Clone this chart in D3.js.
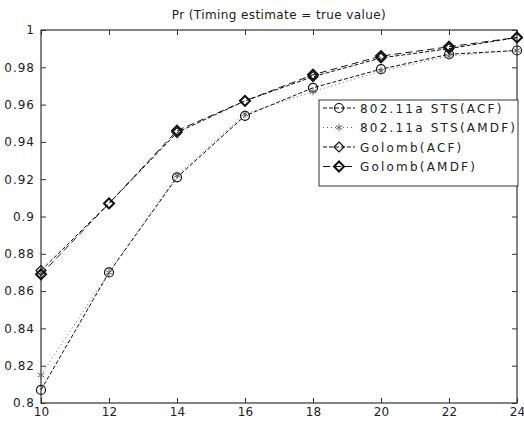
<!DOCTYPE html>
<html>
<head>
<meta charset="utf-8">
<script src="https://cdn.jsdelivr.net/npm/d3@7"></script>
<style>
  body { margin: 0; background: #fff; }
  text { font-family: "DejaVu Sans", sans-serif; fill: #222; }
</style>
</head>
<body>
<div id="chart"></div>
<script>
var snr = [10, 12, 14, 16, 18, 20, 22, 24];
var stsAcf = [0.807, 0.870, 0.921, 0.954, 0.969, 0.979, 0.987, 0.989];
var stsAmdf = [0.815, 0.870, 0.922, 0.955, 0.967, 0.978, 0.986, 0.989];
var golombAcf = [0.871, 0.907, 0.945, 0.962, 0.975, 0.985, 0.990, 0.996];
var golombAmdf = [0.869, 0.907, 0.946, 0.962, 0.976, 0.986, 0.991, 0.996];
var seriesNames = ["802.11a STS(ACF)", "802.11a STS(AMDF)", "Golomb(ACF)", "Golomb(AMDF)"];
var xTicks = [10, 12, 14, 16, 18, 20, 22, 24];
var yTicks = [0.8, 0.82, 0.84, 0.86, 0.88, 0.9, 0.92, 0.94, 0.96, 0.98, 1];
var title = "Pr (Timing estimate = true value)";

var W = 524, H = 426;
// plot area edges (named so they don't clash with window.top)
var pLeft = 41, pRight = 517, pTop = 30, pBottom = 403;

var svg = d3.select("#chart").append("svg").attr("width", W).attr("height", H);

var x = d3.scaleLinear().domain([10, 24]).range([pLeft, pRight]);
var y = d3.scaleLinear().domain([0.8, 1]).range([pBottom, pTop]);

// box + ticks (matlab style, ticks inside)
var axisColor = "#333";
var gx = svg.append("g").attr("transform", "translate(0," + pBottom + ")")
    .call(d3.axisBottom(x).tickValues(xTicks).tickSize(-5).tickPadding(4).tickFormat(d3.format("d")))
    .call(g => g.select(".domain").remove());
svg.append("g").attr("transform", "translate(0," + pTop + ")")
    .call(d3.axisTop(x).tickValues(xTicks).tickSize(-5).tickFormat(""))
    .call(g => g.select(".domain").remove());
var gy = svg.append("g").attr("transform", "translate(" + pLeft + ",0)")
    .call(d3.axisLeft(y).tickValues(yTicks).tickSize(-5).tickPadding(6).tickFormat(d => d === 1 ? "1" : String(+d.toFixed(2))))
    .call(g => g.select(".domain").remove());
svg.append("g").attr("transform", "translate(" + pRight + ",0)")
    .call(d3.axisRight(y).tickValues(yTicks).tickSize(-5).tickFormat(""))
    .call(g => g.select(".domain").remove());

svg.selectAll(".tick line").attr("stroke", axisColor);
svg.selectAll(".tick text").attr("font-size", 12).attr("fill", "#222").attr("font-family", "DejaVu Sans");
gy.selectAll(".tick text").attr("letter-spacing", "1px");

svg.append("rect").attr("x", pLeft).attr("y", pTop).attr("width", pRight - pLeft).attr("height", pBottom - pTop)
    .attr("fill", "none").attr("stroke", axisColor).attr("stroke-width", 1.2);

svg.append("text").attr("x", 279).attr("y", 19).attr("text-anchor", "middle")
    .attr("font-size", 12).attr("letter-spacing", "0.4px").text(title);

var series = [
    { name: seriesNames[0], vals: stsAcf, dash: "4,2", marker: "circle", width: 1, color: "#111" },
    { name: seriesNames[1], vals: stsAmdf, dash: "1,3", marker: "star", width: 1, color: "#666" },
    { name: seriesNames[2], vals: golombAcf, dash: "4,2", marker: "diamond", width: 1, color: "#111" },
    { name: seriesNames[3], vals: golombAmdf, dash: "7,4", marker: "diamondBold", width: 1, color: "#111" }
];

var line = d3.line().x(d => x(d[0])).y(d => y(d[1]));

function drawMarker(g, type, cx, cy, color) {
    if (type === "circle") {
        g.append("circle").attr("cx", cx).attr("cy", cy).attr("r", 4.5)
            .attr("fill", "none").attr("stroke", color).attr("stroke-width", 1.2);
    } else if (type === "star") {
        g.append("path").attr("transform", "translate(" + cx + "," + cy + ")")
            .attr("d", d3.symbol().type(d3.symbolAsterisk).size(40)())
            .attr("fill", "none").attr("stroke", color).attr("stroke-width", 1);
    } else {
        var s = 5;
        g.append("path")
            .attr("d", "M" + cx + "," + (cy - s) + "L" + (cx + s) + "," + cy + "L" + cx + "," + (cy + s) + "L" + (cx - s) + "," + cy + "Z")
            .attr("fill", "none").attr("stroke", color).attr("stroke-width", type === "diamondBold" ? 2 : 1.2);
    }
}

series.forEach(function(s) {
    var pts = snr.map((v, i) => [v, s.vals[i]]);
    svg.append("path").datum(pts).attr("d", line)
        .attr("fill", "none").attr("stroke", s.color).attr("stroke-width", s.width)
        .attr("stroke-dasharray", s.dash);
    var g = svg.append("g");
    pts.forEach(p => drawMarker(g, s.marker, x(p[0]), y(p[1]), s.color));
});

// legend
var lg = svg.append("g");
lg.append("rect").attr("x", 319).attr("y", 100).attr("width", 199).attr("height", 86)
    .attr("fill", "#fff").attr("stroke", axisColor).attr("stroke-width", 1);
series.forEach(function(s, i) {
    var ly = 108 + i * 19.5;
    lg.append("line").attr("x1", 323).attr("x2", 355).attr("y1", ly).attr("y2", ly)
        .attr("stroke", s.color).attr("stroke-width", s.width).attr("stroke-dasharray", s.dash);
    drawMarker(lg, s.marker, 339, ly, s.color);
    lg.append("text").attr("x", 360).attr("y", ly + 4.5).attr("font-size", 12)
        .attr("letter-spacing", "2.2px").text(s.name);
});
</script>
</body>
</html>
